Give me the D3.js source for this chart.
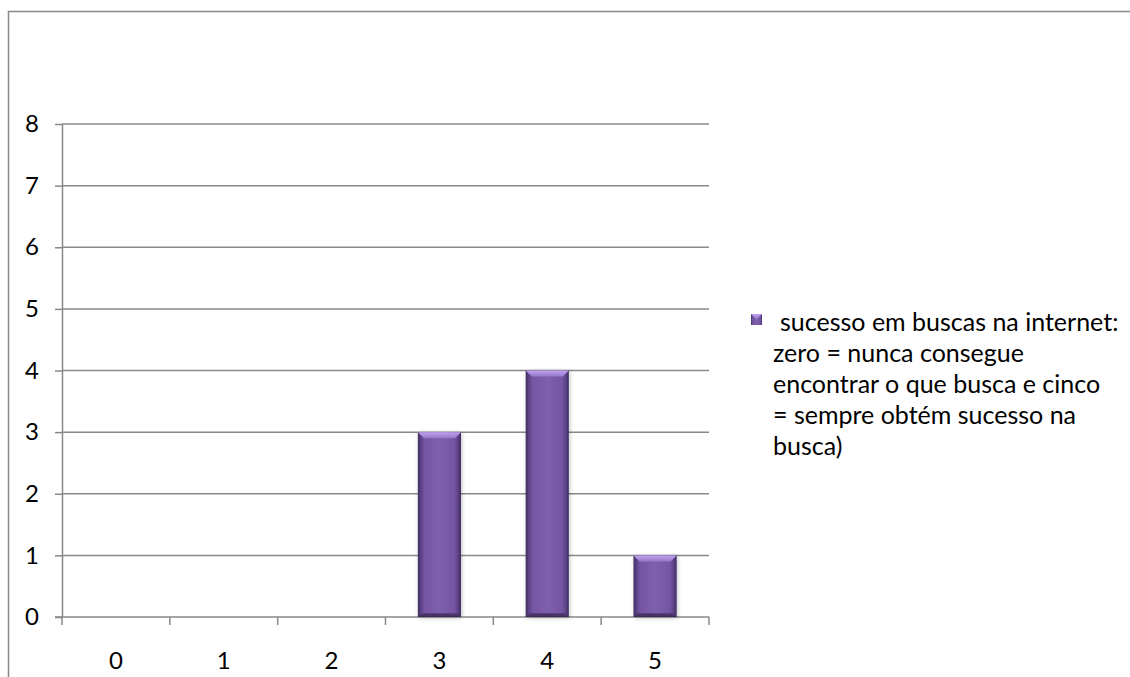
<!DOCTYPE html>
<html>
<head>
<meta charset="utf-8">
<script src="https://cdn.jsdelivr.net/npm/d3@7"></script>
<style>
  html, body { margin: 0; padding: 0; background: #fff; }
  svg { display: block; }
  text { font-family: Lato, "Open Sans", sans-serif; fill: #000; }
</style>
</head>
<body>
<svg id="chart" width="1130" height="677"></svg>
<script>
// Survey answers: success rating 0..5 and number of respondents per rating
const categories = ["0", "1", "2", "3", "4", "5"];
const counts = [0, 0, 0, 3, 4, 1];
const yTicks = [0, 1, 2, 3, 4, 5, 6, 7, 8];
const legendLines = [
  "sucesso em buscas na internet:",
  "zero = nunca consegue",
  "encontrar o que busca e cinco",
  "= sempre obtém sucesso na",
  "busca)"
];

const svg = d3.select("#chart");
const W = 1130, H = 677;
const plot = { left: 62, right: 709, top: 124, bottom: 617 };
const gridColor = "#888888";
const axisFont = 24;
const legendFont = 25;

// Outer chart frame (extends past the right and bottom edges)
svg.append("rect")
  .attr("x", 8.5).attr("y", 11.5)
  .attr("width", W + 20).attr("height", H + 20)
  .attr("fill", "none").attr("stroke", gridColor).attr("stroke-width", 1.5);

const x = d3.scaleBand()
  .domain(categories)
  .range([plot.left, plot.right])
  .paddingInner(0.6)
  .paddingOuter(0.3);

const y = d3.scaleLinear()
  .domain([0, 8])
  .range([plot.bottom, plot.top]);

const defs = svg.append("defs");

// Body gradient: dark edges, lighter centre
const body = defs.append("linearGradient").attr("id", "barBody")
  .attr("x1", "0").attr("x2", "1").attr("y1", "0").attr("y2", "0");
[["0%", "#3f2b5e"], ["7%", "#5d4288"], ["16%", "#7556a3"], ["50%", "#7e5fae"],
 ["84%", "#7556a3"], ["93%", "#5d4288"], ["100%", "#3f2b5e"]]
  .forEach(([o, c]) => body.append("stop").attr("offset", o).attr("stop-color", c));

const topG = defs.append("linearGradient").attr("id", "barTop")
  .attr("x1", "0").attr("x2", "0").attr("y1", "0").attr("y2", "1");
[["0%", "#c0a4ee"], ["100%", "#9676cc"]]
  .forEach(([o, c]) => topG.append("stop").attr("offset", o).attr("stop-color", c));

const botG = defs.append("linearGradient").attr("id", "barBottom")
  .attr("x1", "0").attr("x2", "0").attr("y1", "0").attr("y2", "1");
[["0%", "#5a3f80"], ["100%", "#3a2754"]]
  .forEach(([o, c]) => botG.append("stop").attr("offset", o).attr("stop-color", c));

const shadow = defs.append("filter").attr("id", "shadow")
  .attr("x", "-20%").attr("y", "-10%").attr("width", "140%").attr("height", "120%");
shadow.append("feGaussianBlur").attr("in", "SourceAlpha").attr("stdDeviation", 2);
shadow.append("feOffset").attr("dx", 1).attr("dy", 1).attr("result", "b");
shadow.append("feComponentTransfer").append("feFuncA").attr("type", "linear").attr("slope", 0.25);
const merge = shadow.append("feMerge");
merge.append("feMergeNode");
merge.append("feMergeNode").attr("in", "SourceGraphic");

// Horizontal gridlines
svg.append("g")
  .selectAll("line")
  .data(yTicks.filter(d => d > 0))
  .join("line")
  .attr("x1", plot.left).attr("x2", plot.right)
  .attr("y1", d => y(d)).attr("y2", d => y(d))
  .attr("stroke", gridColor).attr("stroke-width", 1.5);

// Y axis
const yAxis = svg.append("g")
  .attr("transform", `translate(${plot.left},0)`)
  .call(d3.axisLeft(y).tickValues(yTicks).tickSize(7).tickPadding(16).tickSizeOuter(0));
yAxis.select(".domain").attr("stroke", gridColor).attr("stroke-width", 1.5);
yAxis.selectAll(".tick line").attr("stroke", gridColor).attr("stroke-width", 1.5);
yAxis.selectAll(".tick text")
  .attr("font-size", axisFont)
  .attr("font-family", "Lato, sans-serif")
  .attr("fill", "#000");

// X axis: baseline, boundary ticks and centred labels
const step = x.step();
const boundaries = d3.range(categories.length + 1).map(i => plot.left + i * step);
const xAxis = svg.append("g");
xAxis.append("line")
  .attr("x1", plot.left - 7).attr("x2", plot.right)
  .attr("y1", y(0)).attr("y2", y(0))
  .attr("stroke", gridColor).attr("stroke-width", 1.5);
xAxis.selectAll("line.tick")
  .data(boundaries)
  .join("line").attr("class", "tick")
  .attr("x1", d => d).attr("x2", d => d)
  .attr("y1", y(0)).attr("y2", y(0) + 8)
  .attr("stroke", gridColor).attr("stroke-width", 1.5);
xAxis.selectAll("text")
  .data(categories)
  .join("text")
  .attr("x", d => x(d) + x.bandwidth() / 2)
  .attr("y", 663)
  .attr("text-anchor", "middle")
  .attr("dominant-baseline", "middle")
  .attr("font-size", axisFont)
  .text(d => d);

// Bevelled bars
const data = categories.map((c, i) => ({ c, v: counts[i] })).filter(d => d.v > 0);
const bars = svg.append("g").selectAll("g").data(data).join("g")
  .attr("filter", "url(#shadow)");
const bev = 6;
bars.append("rect")
  .attr("x", d => x(d.c)).attr("width", x.bandwidth())
  .attr("y", d => y(d.v)).attr("height", d => y(0) - y(d.v))
  .attr("fill", "url(#barBody)");
bars.append("path")
  .attr("d", d => {
    const x0 = x(d.c), x1 = x0 + x.bandwidth(), t = y(d.v);
    return `M${x0},${t}L${x1},${t}L${x1 - bev},${t + bev}L${x0 + bev},${t + bev}Z`;
  })
  .attr("fill", "url(#barTop)");
bars.append("path")
  .attr("d", d => {
    const x0 = x(d.c), x1 = x0 + x.bandwidth(), b = y(0);
    return `M${x0},${b}L${x1},${b}L${x1 - 4},${b - 4}L${x0 + 4},${b - 4}Z`;
  })
  .attr("fill", "url(#barBottom)");

// Legend
const legend = svg.append("g");
legend.append("rect")
  .attr("x", 751).attr("y", 314).attr("width", 11).attr("height", 11)
  .attr("fill", "url(#barBody)");
legend.append("path")
  .attr("d", "M751,314L762,314L756.5,319.5Z")
  .attr("fill", "url(#barTop)");
legend.selectAll("text")
  .data(legendLines)
  .join("text")
  .attr("x", (d, i) => i === 0 ? 780 : 773)
  .attr("y", (d, i) => 325 + i * 31)
  .attr("dominant-baseline", "middle")
  .attr("font-size", legendFont)
  .text(d => d);
</script>
</body>
</html>
